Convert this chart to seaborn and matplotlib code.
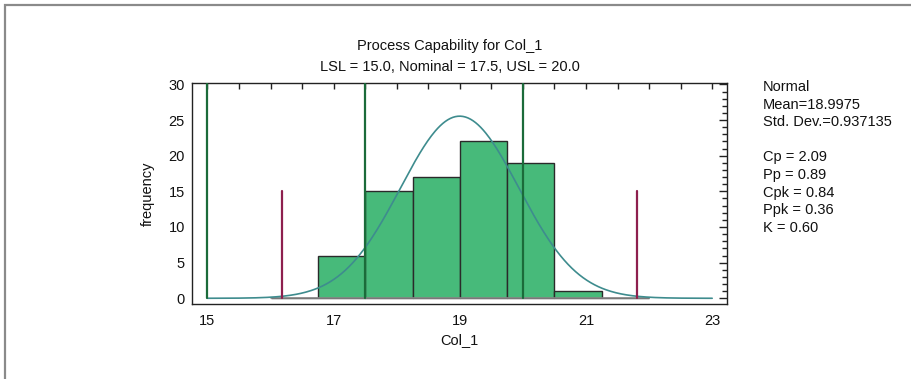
import numpy as np
import pandas as pd
import matplotlib
matplotlib.use("Agg")
import matplotlib.pyplot as plt
import seaborn as sns
from matplotlib.ticker import MultipleLocator, FixedLocator
from matplotlib.patches import Rectangle

# ---- data ----
bin_edges = [16.0, 16.75, 17.5, 18.25, 19.0, 19.75, 20.5, 21.25, 22.0]
counts = [0, 6, 15, 17, 22, 19, 1, 0]
mean = 18.9975
std = 0.937135
n_obs = 80
spec_values = [15.0, 17.5, 20.0]          # LSL, Nominal, USL
sigma_limits = [mean - 3 * std, mean + 3 * std]
x_ticks = [15, 17, 19, 21, 23]
y_ticks = [0, 5, 10, 15, 20, 25, 30]
stats_lines = ["Normal", "Mean=18.9975", "Std. Dev.=0.937135", "",
               "Cp = 2.09", "Pp = 0.89", "Cpk = 0.84", "Ppk = 0.36", "K = 0.60"]

sns.set_theme(style="white")
plt.rcParams['font.family'] = ['Liberation Sans', 'DejaVu Sans']

fig = plt.figure(figsize=(9.12, 3.79), dpi=100)
ax = fig.add_axes([0.2102, 0.1979, 0.5866, 0.5823])

centers = [(a + b) / 2 for a, b in zip(bin_edges[:-1], bin_edges[1:])]
df = pd.DataFrame({"x": centers, "w": counts})
sns.histplot(data=df, x="x", weights="w", bins=bin_edges, ax=ax,
             color="#47BA7A", alpha=1.0, edgecolor="#2a2a2a", linewidth=1.0)
# gray baseline for empty bins
ax.plot([bin_edges[0], bin_edges[-1]], [0, 0], color="#888888", lw=1.2, zorder=1)

# fitted normal curve
bw = bin_edges[1] - bin_edges[0]
xs = np.linspace(15, 23, 400)
ys = n_obs * bw * np.exp(-0.5 * ((xs - mean) / std) ** 2) / (std * np.sqrt(2 * np.pi))
sns.lineplot(x=xs, y=ys, ax=ax, color="#3E8C8E", lw=1.2, zorder=4)

for v in spec_values:
    ax.plot([v, v], [0, 30], color="#1B6B3A", lw=1.6, zorder=5)
for v in sigma_limits:
    ax.plot([v, v], [0, 15], color="#8E1F4E", lw=1.6, zorder=5)

ax.set_xlim(14.75, 23.23)
ax.set_ylim(-0.8, 30.15)
ax.xaxis.set_major_locator(FixedLocator(x_ticks))
ax.set_xticklabels([str(t) for t in x_ticks])
ax.xaxis.set_minor_locator(MultipleLocator(0.5))
ax.yaxis.set_major_locator(FixedLocator(y_ticks))
ax.set_yticklabels([str(t) for t in y_ticks])
ax.yaxis.set_minor_locator(MultipleLocator(1))
ax.tick_params(axis="both", which="both", direction="in", top=True, right=True,
               colors="#222222", labelcolor="#111111", labelsize=10.5)
ax.tick_params(axis="x", which="major", length=4, width=1, pad=7)
ax.tick_params(axis="x", which="minor", length=4, width=1)
ax.tick_params(axis="y", which="major", length=6, width=1, pad=5)
ax.tick_params(axis="y", which="minor", length=3.5, width=1)
for s in ax.spines.values():
    s.set_color("#222222")
    s.set_linewidth(1.0)
ax.set_xlabel("Col_1", fontsize=10.5, color="#111111", labelpad=4)
ax.set_ylabel("frequency", fontsize=10.5, color="#111111", labelpad=10)

fig.text(450 / 912, 1 - 46 / 379, "Process Capability for Col_1", ha="center", va="center",
         fontsize=10.5, color="#111111")
fig.text(450 / 912, 1 - 67 / 379, "LSL = 15.0, Nominal = 17.5, USL = 20.0", ha="center",
         va="center", fontsize=10.5, color="#111111")

y0 = 87
for i, line in enumerate(stats_lines):
    if line:
        fig.text(763 / 912, 1 - (y0 + i * 17.6) / 379, line, ha="left", va="center",
                 fontsize=10.5, color="#111111")

# outer gray frame
fig.patches.append(Rectangle((5.5 / 912, -0.01), 1.1, 1 - 5 / 379 + 0.01,
                             transform=fig.transFigure, fill=False,
                             edgecolor="#8a8a8a", lw=1.6))

fig.savefig("out.png", dpi=100)
